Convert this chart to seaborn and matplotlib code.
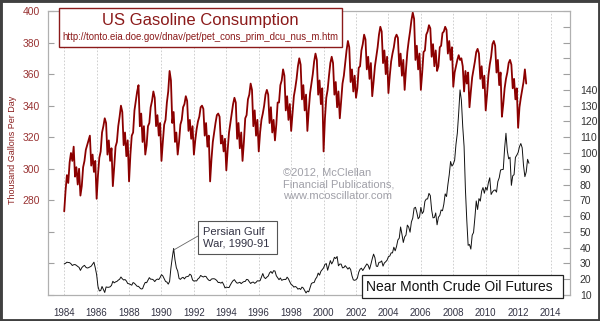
import numpy as np
import pandas as pd
import matplotlib
matplotlib.use("Agg")
import matplotlib.pyplot as plt
from matplotlib.patches import Rectangle
import seaborn as sns

# Monthly series, first value = January 1984
start_year = 1984

# US gasoline consumption (left axis)
gasoline = [
    273, 286, 296, 291, 304, 310, 305, 314, 295, 301, 290, 300,  # 1984
    283, 289, 301, 305, 312, 315, 318, 321, 302, 309, 298, 305,  # 1985
    281, 296, 307, 311, 323, 327, 332, 329, 309, 318, 305, 313,  # 1986
    289, 301, 314, 317, 327, 333, 340, 336, 315, 323, 308, 318,  # 1987
    292, 309, 321, 323, 337, 343, 349, 353, 327, 335, 317, 327,  # 1988
    309, 315, 327, 329, 339, 343, 349, 345, 327, 334, 321, 329,  # 1989
    305, 317, 328, 331, 342, 349, 362, 356, 329, 336, 317, 323,  # 1990
    309, 317, 328, 331, 339, 341, 346, 343, 324, 331, 319, 327,  # 1991
    309, 318, 325, 330, 333, 339, 340, 338, 321, 329, 314, 321,  # 1992
    292, 306, 317, 323, 329, 334, 335, 333, 316, 321, 311, 319,  # 1993
    299, 312, 323, 329, 335, 341, 345, 342, 319, 329, 313, 323,  # 1994
    305, 317, 332, 334, 344, 347, 354, 350, 327, 337, 321, 331,  # 1995
    311, 323, 331, 335, 340, 347, 350, 347, 329, 339, 323, 331,  # 1996
    318, 328, 342, 342, 353, 356, 363, 359, 337, 346, 331, 341,  # 1997
    324, 335, 346, 351, 357, 365, 370, 366, 344, 353, 337, 347,  # 1998
    324, 337, 348, 354, 360, 368, 373, 369, 347, 356, 341, 351,  # 1999
    311, 332, 345, 350, 359, 367, 371, 367, 347, 355, 339, 349,  # 2000
    332, 343, 354, 359, 367, 375, 381, 377, 355, 363, 349, 359,  # 2001
    345, 351, 364, 365, 375, 379, 385, 382, 363, 371, 357, 367,  # 2002
    346, 355, 365, 371, 377, 385, 390, 387, 367, 375, 360, 371,  # 2003
    348, 359, 368, 373, 377, 383, 385, 383, 365, 373, 359, 369,  # 2004
    350, 363, 374, 381, 387, 394, 399, 395, 369, 378, 363, 373,  # 2005
    350, 361, 374, 375, 385, 387, 391, 389, 371, 379, 365, 375,  # 2006
    362, 365, 377, 378, 386, 387, 390, 388, 373, 381, 369, 377,  # 2007
    352, 361, 365, 369, 372, 369, 370, 365, 349, 362, 354, 361,  # 2008
    339, 349, 358, 363, 368, 374, 376, 373, 357, 365, 351, 359,  # 2009
    337, 347, 359, 366, 371, 379, 381, 378, 361, 369, 353, 361,  # 2010
    333, 341, 351, 357, 361, 367, 369, 366, 351, 357, 344, 351,  # 2011
    326, 339, 345, 350, 355, 363, 354,                           # 2012
]

# Near month crude oil futures, $ per barrel (right axis)
crude = [
    29.7, 30.1, 30.8, 30.6, 30.5, 29.8, 28.7, 29.2, 29.3, 28.8, 28.1, 27.5,  # 1984
    25.6, 27.3, 28.2, 28.8, 27.6, 27.1, 27.3, 27.8, 28.3, 29.5, 30.8, 27.2,  # 1985
    22.9, 15.4, 12.6, 12.8, 15.4, 13.5, 11.6, 15.1, 14.9, 14.9, 15.2, 16.1,  # 1986
    18.7, 17.7, 18.3, 18.6, 19.4, 20.0, 21.4, 20.3, 19.5, 19.8, 18.9, 17.3,  # 1987
    17.1, 16.7, 16.2, 17.9, 17.4, 16.5, 15.5, 15.5, 14.5, 13.8, 14.0, 16.3,  # 1988
    18.0, 17.8, 19.4, 21.0, 20.0, 20.0, 19.6, 18.5, 19.6, 20.1, 19.8, 21.1,  # 1989
    22.9, 22.1, 20.4, 18.6, 18.2, 16.9, 18.6, 27.2, 33.7, 39.5, 32.3, 27.3,  # 1990
    25.2, 20.5, 19.9, 20.8, 21.2, 20.2, 21.4, 21.7, 21.9, 23.2, 22.5, 19.5,  # 1991
    18.8, 19.0, 18.9, 20.2, 20.9, 22.4, 21.8, 21.4, 21.9, 21.7, 20.3, 19.4,  # 1992
    19.1, 20.1, 20.3, 20.3, 19.9, 19.1, 17.9, 18.0, 17.5, 18.2, 16.7, 14.5,  # 1993
    15.0, 14.8, 14.7, 16.4, 17.9, 19.1, 19.7, 18.4, 17.5, 17.7, 18.1, 17.2,  # 1994
    18.0, 18.5, 18.6, 19.9, 19.7, 18.4, 17.3, 18.0, 18.2, 17.4, 18.0, 19.0,  # 1995
    18.9, 19.1, 21.4, 23.6, 21.2, 20.4, 21.3, 22.0, 24.0, 24.9, 23.7, 25.4,  # 1996
    25.2, 22.2, 21.0, 19.7, 20.8, 19.3, 19.7, 19.9, 19.8, 21.3, 20.2, 18.3,  # 1997
    16.7, 16.1, 15.0, 15.4, 14.9, 13.7, 14.2, 13.5, 15.0, 14.4, 12.9, 11.3,  # 1998
    12.5, 12.0, 14.7, 17.3, 17.8, 17.9, 20.1, 21.3, 23.9, 22.6, 25.0, 26.1,  # 1999
    27.2, 29.4, 29.9, 25.7, 28.8, 31.8, 29.7, 31.3, 33.9, 33.1, 34.4, 28.5,  # 2000
    29.6, 29.6, 27.2, 27.4, 28.6, 27.6, 26.4, 27.4, 26.2, 22.2, 19.6, 19.3,  # 2001
    19.7, 20.7, 24.4, 26.3, 27.0, 25.5, 26.9, 28.4, 29.7, 28.8, 26.3, 29.4,  # 2002
    32.9, 35.9, 33.6, 28.3, 28.1, 30.7, 30.8, 31.6, 28.3, 30.3, 31.1, 32.1,  # 2003
    34.3, 34.7, 36.7, 36.7, 40.3, 38.0, 40.8, 44.9, 46.0, 53.1, 48.5, 43.3,  # 2004
    46.8, 48.0, 54.3, 53.0, 49.8, 56.3, 58.7, 65.0, 65.6, 62.4, 58.3, 59.4,  # 2005
    65.5, 61.6, 62.9, 69.4, 70.8, 70.9, 74.4, 73.0, 63.8, 58.9, 59.1, 62.0,  # 2006
    54.5, 59.3, 60.4, 63.9, 63.4, 67.5, 74.1, 72.4, 79.9, 86.2, 94.6, 91.7,  # 2007
    93.0, 95.4, 105.5, 112.6, 125.4, 140.0, 133.4, 116.7, 104.1, 76.6, 57.3, 41.5,  # 2008
    42.0, 39.1, 47.9, 49.6, 59.0, 69.6, 64.2, 71.1, 69.5, 75.8, 78.1, 74.5,  # 2009
    78.3, 76.4, 81.2, 84.3, 73.7, 75.3, 76.3, 76.6, 75.2, 81.9, 84.3, 89.2,  # 2010
    89.5, 89.6, 102.9, 112.5, 101.3, 96.3, 97.3, 79.5, 85.5, 86.3, 97.2, 98.6,  # 2011
    100.3, 104.0, 106.0, 103.3, 92.0, 85.0, 88.0, 96.0, 93.5,               # 2012
]

year_ticks = list(range(1984, 2015, 2))
gas_ticks = list(range(220, 401, 20))
gas_tick_labels = [str(v) if v >= 280 else "" for v in gas_ticks]
oil_ticks = list(range(10, 191, 10))
oil_tick_labels = [str(v) if v <= 140 else "" for v in oil_ticks]

gas_df = pd.DataFrame({"year": start_year + np.arange(len(gasoline)) / 12.0,
                       "value": gasoline})
oil_df = pd.DataFrame({"year": start_year + np.arange(len(crude)) / 12.0,
                       "value": crude})

sns.set_style("white")
plt.rcParams["font.family"] = ["Liberation Sans", "DejaVu Sans"]

W, H = 600, 321
fig = plt.figure(figsize=(W / 100, H / 100), dpi=100)
fig.patch.set_facecolor("white")


def fx(px):
    return px / W


def fy(py):
    return 1 - py / H


ax = fig.add_axes([fx(48), fy(295), fx(570) - fx(48), fy(11) - fy(295)])
ax2 = ax.twinx()

sns.lineplot(data=gas_df, x="year", y="value", ax=ax, color="#8B0000",
             linewidth=1.3, zorder=3)
sns.lineplot(data=oil_df, x="year", y="value", ax=ax2, color="#111111",
             linewidth=0.7, zorder=3)

ax.set_xlim(1983.0, 2015.2)
ax.set_ylim(220, 400)
ax2.set_ylim(10, 190)

ax.set_xticks(year_ticks)
ax.set_xticklabels([str(y) for y in year_ticks])
ax.set_yticks(gas_ticks)
ax.set_yticklabels(gas_tick_labels)
ax2.set_yticks(oil_ticks)
ax2.set_yticklabels(oil_tick_labels)

for a in (ax, ax2):
    a.set_xlabel("")
    a.set_ylabel("")
    for s in a.spines.values():
        s.set_color("#B0B0B0")
        s.set_linewidth(0.8)

ax.grid(axis="x", color="#C8C8C8", linestyle=(0, (2, 2)), linewidth=0.6)
ax.grid(axis="y", visible=False)
ax2.grid(False)
ax.set_axisbelow(True)

ax.tick_params(axis="x", length=0, labelsize=7, labelcolor="#333344", pad=9)
ax.tick_params(axis="y", direction="in", length=4, color="#A0A0A0",
               labelsize=7.5, labelcolor="#993333", pad=6)
ax2.tick_params(axis="y", direction="in", length=5, color="#A0A0A0",
                labelsize=7.5, labelcolor="#333333", pad=7)

# left axis title
fig.text(fx(13), fy(150), "Thousand Gallons Per Day", rotation=90,
         ha="center", va="center", fontsize=6.5, color="#8B2020")

# title box
fig.patches.append(Rectangle((fx(59), fy(47)), fx(342) - fx(59), fy(8) - fy(47),
                             transform=fig.transFigure, facecolor="white",
                             edgecolor="#8B1A1A", linewidth=1.0, zorder=5))
fig.text(fx(200), fy(20), "US Gasoline Consumption", ha="center", va="center",
         fontsize=12, color="#8B1A1A", zorder=6)
fig.text(fx(200), fy(37.5),
         "http://tonto.eia.doe.gov/dnav/pet/pet_cons_prim_dcu_nus_m.htm",
         ha="center", va="center", fontsize=6.9, color="#8B1A1A", zorder=6)

# publisher note
fig.text(fx(283), fy(168), "\u00a92012, McClellan\nFinancial Publications,\nwww.mcoscillator.com",
         ha="left", va="top", fontsize=8, color="#A0A0A8", linespacing=1.2)

# Gulf War callout
fig.patches.append(Rectangle((fx(198), fy(254)), fx(277) - fx(198), fy(221) - fy(254),
                             transform=fig.transFigure, facecolor="white",
                             edgecolor="#555555", linewidth=0.8, zorder=5))
fig.text(fx(203), fy(238), "Persian Gulf\nWar, 1990-91", ha="left", va="center",
         fontsize=8, color="#333344", linespacing=1.15, zorder=6)
ax2.annotate("", xy=(1990.75, 38.5), xycoords="data",
             xytext=(fx(198), fy(236)), textcoords="figure fraction",
             arrowprops=dict(arrowstyle="-", color="#666666", lw=0.6,
                             shrinkA=0, shrinkB=0))

# crude oil label box
fig.patches.append(Rectangle((fx(362), fy(298)), fx(563) - fx(362), fy(275) - fy(298),
                             transform=fig.transFigure, facecolor="white",
                             edgecolor="#222222", linewidth=0.9, zorder=5))
fig.text(fx(366), fy(287), "Near Month Crude Oil Futures", ha="left", va="center",
         fontsize=10, color="#111111", zorder=6)

# outer frame
fig.patches.append(Rectangle((0, 0), 1, 1, transform=fig.transFigure, fill=False,
                             edgecolor="#404040", linewidth=3.5, zorder=10))

fig.savefig("out.png", dpi=100)
